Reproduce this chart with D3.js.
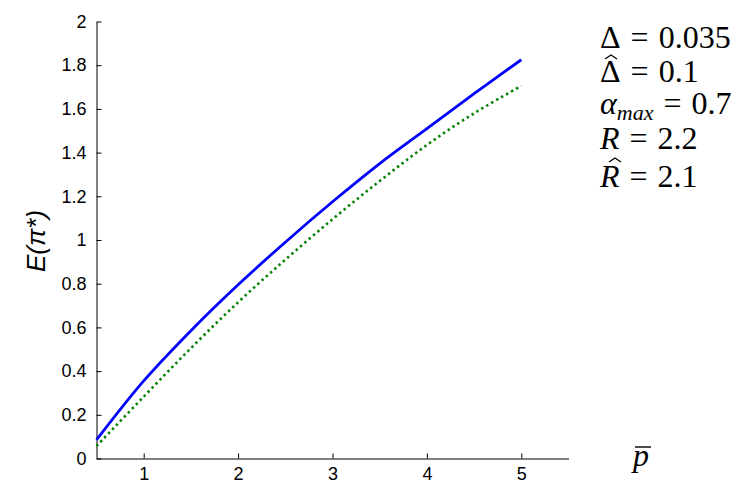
<!DOCTYPE html>
<html><head><meta charset="utf-8">
<script src="https://cdn.jsdelivr.net/npm/d3@7"></script>
<style>body{margin:0;background:#fff}svg{display:block}</style>
</head><body>
<script>
const xVals = [0.5, 1.0, 1.5, 2.0, 2.5, 3.0, 3.5, 4.0, 4.5, 5.0];
const blueVals = [0.085, 0.355, 0.585, 0.795, 0.99, 1.175, 1.35, 1.51, 1.67, 1.825];
const greenVals = [0.057, 0.283, 0.505, 0.715, 0.91, 1.095, 1.27, 1.435, 1.58, 1.705];
const xTicks = [1, 2, 3, 4, 5];
const yTicks = [0, 0.2, 0.4, 0.6, 0.8, 1, 1.2, 1.4, 1.6, 1.8, 2];

const W = 755, H = 485;
const svg = d3.select("body").append("svg").attr("width", W).attr("height", H);
const x = d3.scaleLinear().domain([0.5, 5.5]).range([96.5, 568.5]);
const y = d3.scaleLinear().domain([0, 2]).range([458.5, 21.5]);

const tickFont = "'Liberation Sans', Arial, sans-serif";
const xAxis = svg.append("g").attr("transform", `translate(0,${y(0)})`)
  .call(d3.axisBottom(x).tickValues(xTicks).tickFormat(d3.format("d")).tickSizeInner(-5).tickSizeOuter(0).tickPadding(9));
const yAxis = svg.append("g").attr("transform", `translate(${x(0.5)},0)`)
  .call(d3.axisLeft(y).tickValues(yTicks).tickFormat(d => d3.format("")(+d.toFixed(1))).tickSizeInner(-5).tickSizeOuter(0).tickPadding(10));
[xAxis, yAxis].forEach(g => {
  g.selectAll("text").attr("font-family", tickFont).attr("font-size", 18).attr("fill", "#000");
  g.selectAll("line,path").attr("stroke", "#000");
  g.attr("font-family", null).attr("font-size", null);
});

const line = d3.line().x((d, i) => x(xVals[i])).y(d => y(d)).curve(d3.curveCatmullRom);
svg.append("path").datum(greenVals).attr("d", line).attr("fill", "none")
  .attr("stroke", "#008000").attr("stroke-width", 2.6).attr("stroke-dasharray", "2.4,3.3");
svg.append("path").datum(blueVals).attr("d", line).attr("fill", "none")
  .attr("stroke", "#0000ff").attr("stroke-width", 2.8);

// Y label
svg.append("text").attr("transform", "translate(45,241) rotate(-90)")
  .attr("text-anchor", "middle").attr("font-family", tickFont).attr("font-style", "italic")
  .attr("font-size", 26).text("E(π*)");

// X label p-bar
const serif = "'Liberation Serif', 'Times New Roman', serif";
svg.append("text").attr("x", 633).attr("y", 466).attr("font-family", serif)
  .attr("font-style", "italic").attr("font-size", 32).text("p");
svg.append("line").attr("x1", 635).attr("x2", 651).attr("y1", 447).attr("y2", 447)
  .attr("stroke", "#000").attr("stroke-width", 1.4);

// Annotation
const ann = svg.append("g").attr("font-family", serif).attr("font-size", 32).attr("fill", "#000");
function eq(yb, sym, val, opts = {}) {
  const t = ann.append("text").attr("x", 600).attr("y", yb);
  const s = t.append("tspan").text(sym);
  if (opts.it) s.attr("font-style", "italic");
  if (opts.sub) {
    t.append("tspan").attr("font-style", "italic").attr("font-size", 22).attr("dy", 6).text(opts.sub);
    t.append("tspan").attr("dy", -6).attr("dx", 10).text("=");
  } else {
    t.append("tspan").attr("dx", 10).text("=");
  }
  t.append("tspan").attr("dx", 10).text(val);
  return t;
}
function hat(cx, yTop) {
  ann.append("path").attr("d", `M${cx - 6},${yTop + 4} L${cx},${yTop} L${cx + 6},${yTop + 4}`)
    .attr("fill", "none").attr("stroke", "#000").attr("stroke-width", 1.3);
}
eq(48, "Δ", "0.035");
eq(82, "Δ", "0.1");
hat(611, 55);
eq(114, "α", "0.7", {it: true, sub: "max"});
eq(149, "R", "2.2", {it: true});
eq(187, "R", "2.1", {it: true});
hat(615, 158);
</script>
</body></html>
